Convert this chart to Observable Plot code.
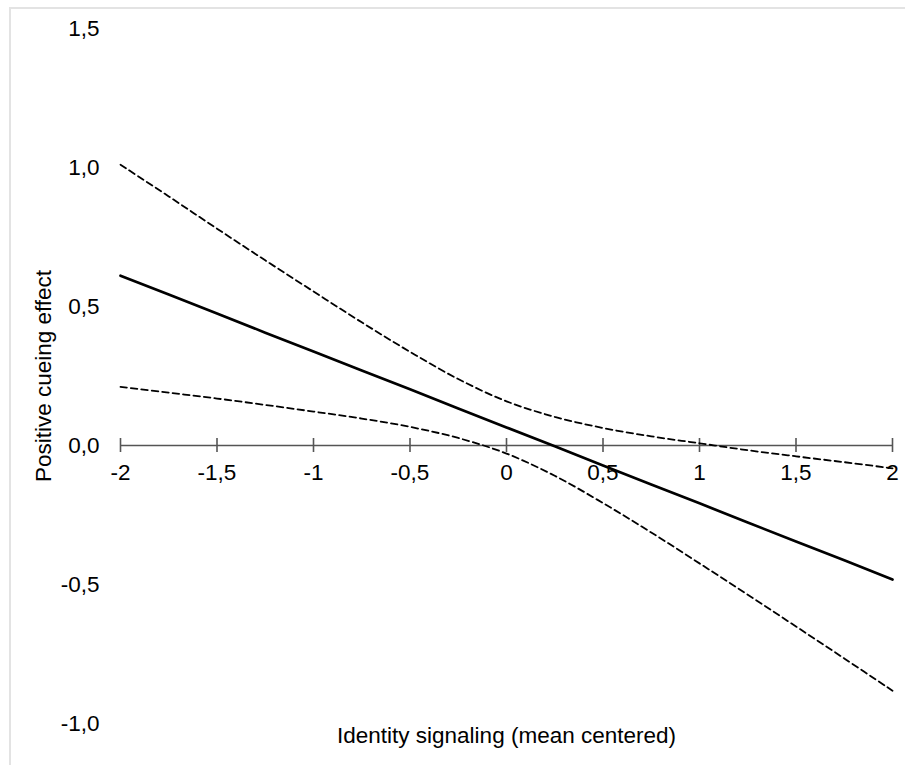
<!DOCTYPE html>
<html><head><meta charset="utf-8">
<script src="https://cdn.jsdelivr.net/npm/d3@7"></script>
<script src="https://cdn.jsdelivr.net/npm/@observablehq/plot@0.6"></script>
<style>
html,body{margin:0;padding:0;background:#fff;overflow:hidden;}
#wrap{position:relative;width:905px;height:765px;overflow:hidden;}
#frame{position:absolute;left:9px;top:7px;width:920px;height:780px;border-left:2px solid #e3e3e3;border-top:2px solid #e3e3e3;pointer-events:none;}
#wrap svg{position:absolute;left:0;top:0;}
</style></head><body><div id="wrap"><div id="frame"></div></div>
<script>
// Values
const xValues  = [-2, -1.75, -1.5, -1.25, -1, -0.75, -0.5, -0.25, 0, 0.25, 0.5, 0.75, 1, 1.25, 1.5, 1.75, 2];
const estimate = [0.611, 0.543, 0.475, 0.406, 0.338, 0.270, 0.202, 0.133, 0.065, -0.003, -0.072, -0.140, -0.208, -0.277, -0.345, -0.413, -0.482];
const upper    = [1.010, 0.896, 0.780, 0.666, 0.554, 0.443, 0.337, 0.239, 0.159, 0.103, 0.063, 0.033, 0.008, -0.017, -0.039, -0.060, -0.082];
const lower    = [0.211, 0.190, 0.169, 0.146, 0.122, 0.097, 0.067, 0.027, -0.029, -0.109, -0.207, -0.313, -0.424, -0.537, -0.651, -0.766, -0.882];

const xTicks = [-2, -1.5, -1, -0.5, 0, 0.5, 1, 1.5, 2];
const xTickLabels = ["-2", "-1,5", "-1", "-0,5", "0", "0,5", "1", "1,5", "2"];
const yTicks = [-1, -0.5, 0, 0.5, 1, 1.5];
const yTickLabels = ["-1,0", "-0,5", "0,0", "0,5", "1,0", "1,5"];
const xLabel = "Identity signaling (mean centered)";
const yLabel = "Positive cueing effect";

const estData = xValues.map((x, i) => ({x, y: estimate[i]}));
const upData = xValues.map((x, i) => ({x, y: upper[i]}));
const loData = xValues.map((x, i) => ({x, y: lower[i]}));
const xTickData = xTicks.map((v, i) => ({x: v, y: 0, label: xTickLabels[i]}));

const FS = 22.5;
const chart = Plot.plot({
  width: 905,
  height: 765,
  marginLeft: 120,
  marginRight: 13,
  marginTop: 28,
  marginBottom: 42,
  style: {background: "transparent", fontFamily: "'Liberation Sans', Arial, sans-serif", fontSize: FS + "px", color: "#000"},
  x: {domain: [-2, 2], axis: null},
  y: {domain: [-1, 1.5], axis: null},
  marks: [
    Plot.axisY(yTicks, {tickSize: 0, tickPadding: 21, tickFormat: d => yTickLabels[yTicks.indexOf(d)], label: null, fontSize: FS}),
    Plot.ruleY([0], {stroke: "#555", strokeWidth: 1.6}),
    Plot.ruleX(xTickData, {x: "x", y1: "y", y2: "y", insetTop: -7, insetBottom: -7, stroke: "#555", strokeWidth: 1.6}),
    Plot.text(xTickData, {x: "x", y: "y", text: "label", dy: 27, fontSize: FS, fill: "#000"}),
    Plot.line(upData, {x: "x", y: "y", stroke: "#000", strokeWidth: 1.8, strokeDasharray: "6.5,4", curve: "catmull-rom"}),
    Plot.line(loData, {x: "x", y: "y", stroke: "#000", strokeWidth: 1.8, strokeDasharray: "6.5,4", curve: "catmull-rom"}),
    Plot.line(estData, {x: "x", y: "y", stroke: "#000", strokeWidth: 2.7}),
    Plot.text([yLabel], {frameAnchor: "left", textAnchor: "middle", dx: -77, rotate: -90, fontSize: FS, fill: "#000"}),
    Plot.text([xLabel], {frameAnchor: "bottom", textAnchor: "middle", dy: 19, fontSize: FS, fill: "#000"})
  ]
});
document.getElementById("wrap").appendChild(chart);
</script></body></html>
